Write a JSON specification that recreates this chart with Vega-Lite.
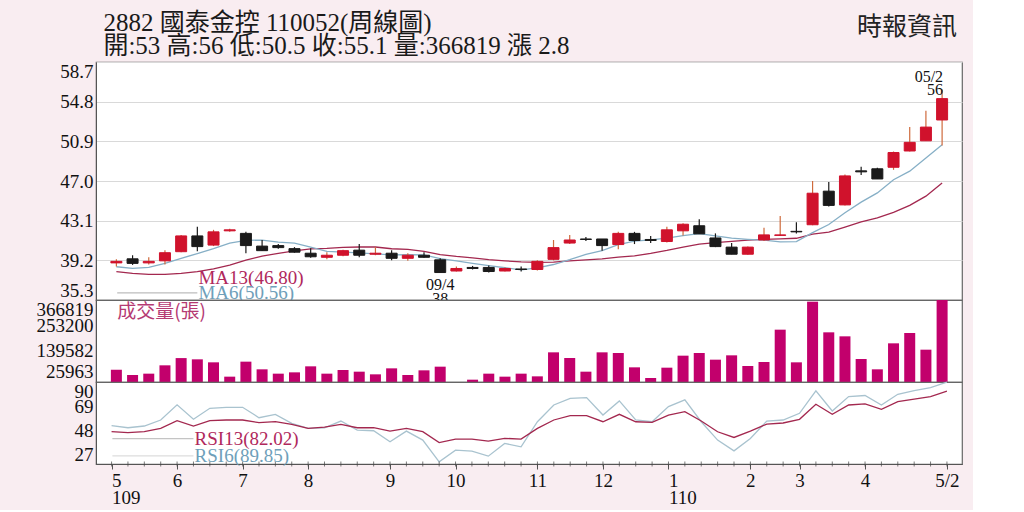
{
  "$schema": "https://vega.github.io/schema/vega-lite/v6.json",
  "background": "#f9edf1",
  "padding": {"left": 35, "top": 10, "right": 10, "bottom": 2},
  "spacing": 0,
  "bounds": "flush",
  "config": {
    "view": {"stroke": "#666666", "strokeWidth": 1.2, "fill": "#ffffff"},
    "concat": {"spacing": 0},
    "axis": {
      "labelFont": "Liberation Serif",
      "labelFontSize": 19,
      "labelColor": "#111111",
      "domainColor": "#555555",
      "tickColor": "#555555"
    }
  },
  "resolve": {"scale": {"x": "independent", "y": "independent"}},
  "datasets": {
    "weeks": [
      {"w": 1, "o": 38.95, "h": 39.3, "l": 38.6, "c": 39.1, "v": 55000, "ma6": 38.57, "ma13": 38.08, "rsi6": 52.2, "rsi13": 47.0},
      {"w": 2, "o": 39.35, "h": 39.7, "l": 38.75, "c": 38.9, "v": 31300, "ma6": 38.41, "ma13": 37.92, "rsi6": 50.4, "rsi13": 46.1},
      {"w": 3, "o": 38.95, "h": 39.5, "l": 38.8, "c": 39.1, "v": 37300, "ma6": 38.51, "ma13": 37.82, "rsi6": 51.9, "rsi13": 47.0},
      {"w": 4, "o": 39.15, "h": 40.2, "l": 38.8, "c": 39.95, "v": 74600, "ma6": 38.9, "ma13": 37.82, "rsi6": 57.1, "rsi13": 49.9},
      {"w": 5, "o": 40.05, "h": 41.7, "l": 40.0, "c": 41.6, "v": 107000, "ma6": 39.4, "ma13": 37.92, "rsi6": 70.2, "rsi13": 56.5},
      {"w": 6, "o": 41.6, "h": 42.5, "l": 40.1, "c": 40.55, "v": 101400, "ma6": 39.87, "ma13": 38.08, "rsi6": 57.7, "rsi13": 51.9},
      {"w": 7, "o": 40.7, "h": 42.2, "l": 40.6, "c": 42.0, "v": 88000, "ma6": 40.35, "ma13": 38.35, "rsi6": 67.2, "rsi13": 56.5},
      {"w": 8, "o": 42.1, "h": 42.3, "l": 42.0, "c": 42.2, "v": 23900, "ma6": 40.9, "ma13": 38.74, "rsi6": 68.1, "rsi13": 57.1},
      {"w": 9, "o": 41.85, "h": 42.0, "l": 39.9, "c": 40.65, "v": 91000, "ma6": 41.16, "ma13": 39.23, "rsi6": 68.1, "rsi13": 57.1},
      {"w": 10, "o": 40.6, "h": 41.2, "l": 40.15, "c": 40.15, "v": 56700, "ma6": 41.19, "ma13": 39.62, "rsi6": 59.1, "rsi13": 54.8},
      {"w": 11, "o": 40.65, "h": 40.8, "l": 40.35, "c": 40.45, "v": 37300, "ma6": 41.0, "ma13": 39.89, "rsi6": 62.0, "rsi13": 55.7},
      {"w": 12, "o": 40.35, "h": 40.5, "l": 39.95, "c": 40.0, "v": 43200, "ma6": 40.9, "ma13": 40.12, "rsi6": 54.2, "rsi13": 53.3},
      {"w": 13, "o": 39.9, "h": 40.4, "l": 39.45, "c": 39.55, "v": 70100, "ma6": 40.5, "ma13": 40.32, "rsi6": 49.9, "rsi13": 49.9},
      {"w": 14, "o": 39.5, "h": 40.0, "l": 39.3, "c": 39.7, "v": 37300, "ma6": 40.08, "ma13": 40.37, "rsi6": 50.4, "rsi13": 51.0},
      {"w": 15, "o": 39.7, "h": 40.25, "l": 39.6, "c": 40.15, "v": 53700, "ma6": 40.0, "ma13": 40.47, "rsi6": 56.2, "rsi13": 53.3},
      {"w": 16, "o": 40.2, "h": 40.8, "l": 39.5, "c": 39.7, "v": 46200, "ma6": 39.93, "ma13": 40.51, "rsi6": 48.4, "rsi13": 50.4},
      {"w": 17, "o": 39.8, "h": 40.5, "l": 39.7, "c": 39.9, "v": 34300, "ma6": 39.83, "ma13": 40.51, "rsi6": 47.8, "rsi13": 50.4},
      {"w": 18, "o": 39.9, "h": 40.2, "l": 39.2, "c": 39.4, "v": 61100, "ma6": 39.73, "ma13": 40.34, "rsi6": 38.2, "rsi13": 47.5},
      {"w": 19, "o": 39.4, "h": 39.9, "l": 39.15, "c": 39.7, "v": 31300, "ma6": 39.76, "ma13": 40.27, "rsi6": 47.5, "rsi13": 49.9},
      {"w": 20, "o": 39.7, "h": 40.0, "l": 39.45, "c": 39.5, "v": 52200, "ma6": 39.73, "ma13": 40.08, "rsi6": 39.7, "rsi13": 47.0},
      {"w": 21, "o": 39.25, "h": 39.4, "l": 38.0, "c": 38.0, "v": 68600, "ma6": 39.37, "ma13": 39.76, "rsi6": 20.9, "rsi13": 37.6},
      {"w": 22, "o": 38.15, "h": 38.6, "l": 38.1, "c": 38.4, "v": 0, "ma6": 39.15, "ma13": 39.58, "rsi6": 31.0, "rsi13": 40.6},
      {"w": 23, "o": 38.5, "h": 38.65, "l": 38.3, "c": 38.4, "v": 10400, "ma6": 38.9, "ma13": 39.45, "rsi6": 30.1, "rsi13": 40.6},
      {"w": 24, "o": 38.5, "h": 38.7, "l": 38.0, "c": 38.1, "v": 37300, "ma6": 38.68, "ma13": 39.27, "rsi6": 25.8, "rsi13": 38.8},
      {"w": 25, "o": 38.15, "h": 38.5, "l": 38.1, "c": 38.4, "v": 23900, "ma6": 38.47, "ma13": 39.15, "rsi6": 36.8, "rsi13": 41.2},
      {"w": 26, "o": 38.35, "h": 38.6, "l": 38.1, "c": 38.3, "v": 37300, "ma6": 38.27, "ma13": 39.05, "rsi6": 33.9, "rsi13": 40.6},
      {"w": 27, "o": 38.3, "h": 39.2, "l": 38.2, "c": 39.1, "v": 25300, "ma6": 38.45, "ma13": 39.0, "rsi6": 55.6, "rsi13": 49.8},
      {"w": 28, "o": 39.3, "h": 41.2, "l": 39.2, "c": 40.45, "v": 132700, "ma6": 38.79, "ma13": 39.03, "rsi6": 70.1, "rsi13": 57.1},
      {"w": 29, "o": 40.9, "h": 41.7, "l": 40.8, "c": 41.2, "v": 107400, "ma6": 39.26, "ma13": 39.14, "rsi6": 75.9, "rsi13": 60.9},
      {"w": 30, "o": 41.3, "h": 41.5, "l": 41.1, "c": 41.25, "v": 46200, "ma6": 39.78, "ma13": 39.25, "rsi6": 76.5, "rsi13": 60.9},
      {"w": 31, "o": 41.3, "h": 41.3, "l": 40.15, "c": 40.65, "v": 132700, "ma6": 40.16, "ma13": 39.34, "rsi6": 61.4, "rsi13": 55.6},
      {"w": 32, "o": 40.75, "h": 42.0, "l": 40.3, "c": 41.85, "v": 129700, "ma6": 40.75, "ma13": 39.51, "rsi6": 73.6, "rsi13": 62.0},
      {"w": 33, "o": 41.85, "h": 42.0, "l": 40.8, "c": 41.15, "v": 65600, "ma6": 41.09, "ma13": 39.63, "rsi6": 57.1, "rsi13": 55.6},
      {"w": 34, "o": 41.25, "h": 41.6, "l": 40.9, "c": 41.15, "v": 17900, "ma6": 41.21, "ma13": 39.88, "rsi6": 55.6, "rsi13": 55.1},
      {"w": 35, "o": 41.05, "h": 42.5, "l": 40.95, "c": 42.2, "v": 64100, "ma6": 41.38, "ma13": 40.17, "rsi6": 68.7, "rsi13": 61.4},
      {"w": 36, "o": 42.1, "h": 42.85, "l": 41.65, "c": 42.75, "v": 117800, "ma6": 41.63, "ma13": 40.5, "rsi6": 74.5, "rsi13": 64.3},
      {"w": 37, "o": 42.6, "h": 43.25, "l": 41.8, "c": 41.8, "v": 129700, "ma6": 41.82, "ma13": 40.79, "rsi6": 55.6, "rsi13": 56.2},
      {"w": 38, "o": 41.4, "h": 41.85, "l": 40.5, "c": 40.55, "v": 99900, "ma6": 41.6, "ma13": 40.95, "rsi6": 39.7, "rsi13": 46.9},
      {"w": 39, "o": 40.5, "h": 40.9, "l": 39.8, "c": 39.8, "v": 119300, "ma6": 41.38, "ma13": 41.07, "rsi6": 30.4, "rsi13": 42.0},
      {"w": 40, "o": 39.8, "h": 40.55, "l": 39.75, "c": 40.5, "v": 71600, "ma6": 41.27, "ma13": 41.18, "rsi6": 41.1, "rsi13": 47.5},
      {"w": 41, "o": 41.2, "h": 42.4, "l": 41.1, "c": 41.7, "v": 89500, "ma6": 41.18, "ma13": 41.27, "rsi6": 56.2, "rsi13": 53.6},
      {"w": 42, "o": 41.65, "h": 43.55, "l": 41.6, "c": 41.7, "v": 234100, "ma6": 41.01, "ma13": 41.31, "rsi6": 57.1, "rsi13": 54.5},
      {"w": 43, "o": 42.05, "h": 42.95, "l": 41.85, "c": 42.0, "v": 88000, "ma6": 41.04, "ma13": 41.37, "rsi6": 62.9, "rsi13": 57.7},
      {"w": 44, "o": 42.7, "h": 47.0, "l": 42.65, "c": 45.8, "v": 359300, "ma6": 41.92, "ma13": 41.77, "rsi6": 82.3, "rsi13": 70.7},
      {"w": 45, "o": 46.0, "h": 46.9, "l": 44.5, "c": 44.6, "v": 222200, "ma6": 42.72, "ma13": 41.98, "rsi6": 64.9, "rsi13": 62.0},
      {"w": 46, "o": 44.65, "h": 47.65, "l": 44.6, "c": 47.5, "v": 204300, "ma6": 43.88, "ma13": 42.47, "rsi6": 77.4, "rsi13": 70.1},
      {"w": 47, "o": 48.0, "h": 48.4, "l": 47.6, "c": 47.9, "v": 102900, "ma6": 44.92, "ma13": 42.98, "rsi6": 78.3, "rsi13": 71.0},
      {"w": 48, "o": 48.2, "h": 48.3, "l": 47.2, "c": 47.2, "v": 56700, "ma6": 45.83, "ma13": 43.37, "rsi6": 70.1, "rsi13": 66.4},
      {"w": 49, "o": 48.35, "h": 49.9, "l": 48.1, "c": 49.8, "v": 173000, "ma6": 47.13, "ma13": 43.91, "rsi6": 79.4, "rsi13": 73.0},
      {"w": 50, "o": 49.95, "h": 52.3, "l": 49.9, "c": 50.8, "v": 219200, "ma6": 47.97, "ma13": 44.6, "rsi6": 82.6, "rsi13": 75.1},
      {"w": 51, "o": 50.95, "h": 53.9, "l": 50.95, "c": 52.3, "v": 144600, "ma6": 49.25, "ma13": 45.51, "rsi6": 85.2, "rsi13": 77.4},
      {"w": 52, "o": 53.0, "h": 56.0, "l": 50.5, "c": 55.1, "v": 366819, "ma6": 50.56, "ma13": 46.8, "rsi6": 89.85, "rsi13": 82.02}
    ]
  },
  "vconcat": [
    {
      "width": 866,
      "height": 238,
      "data": {"name": "weeks"},
      "encoding": {
        "x": {"field": "w", "type": "quantitative", "scale": {"domain": [0.05, 52.92], "nice": false, "zero": false}, "axis": null}
      },
      "layer": [
        {
          "mark": {"type": "line", "color": "#a3284f", "strokeWidth": 1.3},
          "encoding": {
            "y": {
              "field": "ma13", "type": "quantitative",
              "scale": {"domain": [35.3, 58.7], "nice": false, "zero": false},
              "axis": {"values": [35.3, 39.2, 43.1, 47.0, 50.9, 54.8, 58.7], "tickCount": 30, "format": ".1f", "labelFlush": true, "labelOverlap": false, "grid": true, "gridColor": "#d9d9d9", "ticks": false, "title": null, "labelPadding": 3}
            }
          }
        },
        {
          "mark": {"type": "line", "color": "#86afc6", "strokeWidth": 1.3},
          "encoding": {"y": {"field": "ma6", "type": "quantitative"}}
        },
        {
          "mark": {"type": "rule", "strokeWidth": 1.2},
          "encoding": {
            "y": {"field": "l", "type": "quantitative"},
            "y2": {"field": "h"},
            "color": {"condition": {"test": "datum.c >= datum.o", "value": "#cf6a3c"}, "value": "#1a1a1a"}
          }
        },
        {
          "mark": {"type": "bar", "width": 11, "strokeWidth": 1},
          "encoding": {
            "y": {"field": "o", "type": "quantitative"},
            "y2": {"field": "c"},
            "fill": {"condition": {"test": "datum.c >= datum.o", "value": "#d0122c"}, "value": "#1a1a1a"},
            "stroke": {"condition": {"test": "datum.c >= datum.o", "value": "#d0122c"}, "value": "#1a1a1a"}
          }
        },
        {
          "transform": [{"filter": "datum.w == 52"}],
          "mark": {"type": "text", "align": "right", "baseline": "bottom", "dy": -4, "dx": 1, "font": "Liberation Serif", "fontSize": 16, "lineHeight": 13, "color": "#111111"},
          "encoding": {"y": {"field": "h", "type": "quantitative"}, "text": {"value": ["05/2", "56"]}}
        },
        {
          "transform": [{"filter": "datum.w == 21"}],
          "mark": {"type": "text", "align": "center", "baseline": "top", "dy": 4, "font": "Liberation Serif", "fontSize": 16, "lineHeight": 14, "color": "#111111"},
          "encoding": {"y": {"field": "l", "type": "quantitative"}, "text": {"value": ["09/4", "38"]}}
        },
        {
          "transform": [{"filter": "datum.w == 1"}],
          "mark": {"type": "rule", "color": "#bdbdbd", "strokeWidth": 1.2},
          "encoding": {"x": {"datum": 1.05}, "x2": {"datum": 6.0}, "y": {"datum": 36.0}}
        },
        {
          "transform": [{"filter": "datum.w == 1"}],
          "mark": {"type": "text", "align": "left", "baseline": "middle", "font": "Liberation Serif", "fontSize": 19, "color": "#b0285c"},
          "encoding": {"x": {"datum": 6.07}, "y": {"datum": 37.5}, "text": {"value": "MA13(46.80)"}}
        },
        {
          "transform": [{"filter": "datum.w == 1"}],
          "mark": {"type": "text", "align": "left", "baseline": "middle", "font": "Liberation Serif", "fontSize": 19, "color": "#6f9fba"},
          "encoding": {"x": {"datum": 6.07}, "y": {"datum": 36.0}, "text": {"value": "MA6(50.56)"}}
        },
        {
          "transform": [{"filter": "datum.w == 1"}],
          "mark": {"type": "text", "align": "left", "baseline": "middle", "font": "Liberation Serif, Noto Sans CJK TC", "fontSize": 25, "color": "#1a1a1a"},
          "encoding": {"x": {"datum": 0.2}, "y": {"datum": 62.5}, "text": {"value": "2882  國泰金控 110052(周線圖)"}}
        },
        {
          "transform": [{"filter": "datum.w == 1"}],
          "mark": {"type": "text", "align": "left", "baseline": "middle", "font": "Liberation Serif, Noto Sans CJK TC", "fontSize": 25, "color": "#1a1a1a"},
          "encoding": {"x": {"datum": 0.2}, "y": {"datum": 60.25}, "text": {"value": "開:53 高:56 低:50.5 收:55.1 量:366819 漲 2.8"}}
        },
        {
          "transform": [{"filter": "datum.w == 1"}],
          "mark": {"type": "text", "align": "right", "baseline": "middle", "font": "Noto Sans CJK TC", "fontSize": 25, "color": "#222222"},
          "encoding": {"x": {"datum": 52.92}, "y": {"datum": 62.1}, "text": {"value": "時報資訊"}}
        }
      ]
    },
    {
      "width": 866,
      "height": 82,
      "data": {"name": "weeks"},
      "encoding": {
        "x": {"field": "w", "type": "quantitative", "scale": {"domain": [0.05, 52.92], "nice": false, "zero": false}, "axis": null}
      },
      "layer": [
        {
          "mark": {"type": "bar", "width": 11, "color": "#c2006c"},
          "encoding": {
            "y": {
              "field": "v", "type": "quantitative",
              "scale": {"domain": [0, 366819], "nice": false},
              "axis": {
                "values": [25963, 139582, 253200, 366819],
                "tickCount": 30,
                "format": "d",
                "labelOverlap": false,
                "labelBaseline": {"condition": {"test": "datum.value == 366819", "value": "top"}, "value": "middle"},
                "labelOffset": {"condition": {"test": "datum.value == 25963", "value": -5}, "value": 0},
                "grid": false,
                "ticks": false,
                "title": null,
                "labelPadding": 3
              }
            }
          }
        },
        {
          "transform": [{"filter": "datum.w == 1"}],
          "mark": {"type": "text", "align": "left", "baseline": "middle", "font": "Noto Sans CJK TC", "fontSize": 19, "color": "#b53a73"},
          "encoding": {"x": {"datum": 1.05}, "y": {"datum": 313000}, "text": {"value": "成交量(張)"}}
        }
      ]
    },
    {
      "width": 866,
      "height": 82,
      "data": {"name": "weeks"},
      "encoding": {
        "x": {
          "field": "w", "type": "quantitative",
          "scale": {"domain": [0.05, 52.92], "nice": false, "zero": false},
          "axis": {
            "values": [1, 5, 9, 13, 18, 22, 27, 31, 35, 40, 43, 47, 52],
            "tickCount": 60,
            "labelExpr": "datum.value == 1 ? ['5', '109'] : datum.value == 5 ? '6' : datum.value == 9 ? '7' : datum.value == 13 ? '8' : datum.value == 18 ? '9' : datum.value == 22 ? '10' : datum.value == 27 ? '11' : datum.value == 31 ? '12' : datum.value == 35 ? ['1', '110'] : datum.value == 40 ? '2' : datum.value == 43 ? '3' : datum.value == 47 ? '4' : '5/2'",
            "labelAlign": {"condition": {"test": "datum.value == 1 || datum.value == 35", "value": "left"}, "value": "center"},
            "labelOverlap": false,
            "labelLineHeight": 17,
            "labelPadding": 2,
            "tickSize": 5,
            "grid": false,
            "title": null
          }
        }
      },
      "layer": [
        {
          "mark": {"type": "line", "color": "#a9c3cf", "strokeWidth": 1.3},
          "encoding": {
            "y": {
              "field": "rsi6", "type": "quantitative",
              "scale": {"domain": [19, 90], "nice": false, "zero": false},
              "axis": {"values": [27, 48, 69, 90], "tickCount": 30, "labelFlush": true, "labelOverlap": false, "grid": false, "ticks": false, "title": null, "labelPadding": 3}
            }
          }
        },
        {
          "mark": {"type": "line", "color": "#a3284f", "strokeWidth": 1.3},
          "encoding": {"y": {"field": "rsi13", "type": "quantitative"}}
        },
        {
          "mark": {"type": "tick", "orient": "vertical", "size": 5, "thickness": 1, "color": "#444444"},
          "encoding": {"y": {"datum": 19}}
        },
        {
          "transform": [{"filter": "datum.w == 1"}],
          "mark": {"type": "rule", "color": "#c4c4c4", "strokeWidth": 1.2},
          "encoding": {"x": {"datum": 1.05}, "x2": {"datum": 6.0}, "y": {"datum": 41.0}}
        },
        {
          "transform": [{"filter": "datum.w == 1"}],
          "mark": {"type": "rule", "color": "#dddddd", "strokeWidth": 1.2},
          "encoding": {"x": {"datum": 1.05}, "x2": {"datum": 6.0}, "y": {"datum": 26.0}}
        },
        {
          "transform": [{"filter": "datum.w == 1"}],
          "mark": {"type": "text", "align": "left", "baseline": "middle", "font": "Liberation Serif", "fontSize": 19, "color": "#b0285c"},
          "encoding": {"x": {"datum": 6.07}, "y": {"datum": 41.0}, "text": {"value": "RSI13(82.02)"}}
        },
        {
          "transform": [{"filter": "datum.w == 1"}],
          "mark": {"type": "text", "align": "left", "baseline": "middle", "font": "Liberation Serif", "fontSize": 19, "color": "#6f9fba"},
          "encoding": {"x": {"datum": 6.07}, "y": {"datum": 26.0}, "text": {"value": "RSI6(89.85)"}}
        }
      ]
    }
  ]
}
